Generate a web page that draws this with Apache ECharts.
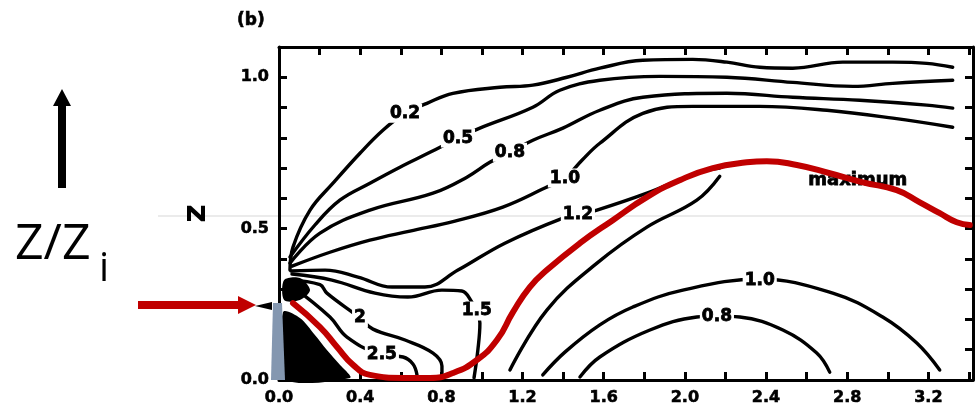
<!DOCTYPE html>
<html>
<head>
<meta charset="utf-8">
<script src="https://cdn.jsdelivr.net/npm/echarts@6/dist/echarts.min.js"></script>
<style>
html, body { margin: 0; padding: 0; background: #fff; }
#chart { width: 980px; height: 418px; }
</style>
</head>
<body>
<div id="chart"></div>
<script>
// contour lines, [x, z] pairs
const c02 = [[0.054,0.363],[0.069,0.439],[0.153,0.561],[0.266,0.650],[0.399,0.749],[0.512,0.825],[0.621,0.881],
    [0.729,0.914],[0.857,0.947],[1.089,0.967],[1.251,0.974],[1.419,1.0],[1.581,1.030],[1.793,1.056],[2.039,1.059],
    [2.207,1.050],[2.369,1.033],[2.532,1.030],[2.778,1.050],[3.025,1.050],[3.192,1.046],[3.320,1.033]];
const c05 = [[0.054,0.406],[0.177,0.512],[0.300,0.594],[0.448,0.650],[0.596,0.703],[0.744,0.752],[0.882,0.799],
    [0.990,0.832],[1.251,0.901],[1.384,0.957],[1.581,0.990],[1.877,1.003],[2.207,1.0],[2.532,0.983],[2.828,0.970],
    [3.025,0.980],[3.320,0.990]];
const c08 = [[0.054,0.386],[0.202,0.485],[0.448,0.561],[0.759,0.617],[0.926,0.670],[1.039,0.719],[1.138,0.752],
    [1.251,0.792],[1.399,0.832],[1.581,0.891],[1.793,0.934],[2.207,0.947],[2.532,0.934],[2.862,0.924],[3.192,0.908],
    [3.320,0.898]];
const c10 = [[0.064,0.376],[0.251,0.422],[0.448,0.462],[0.645,0.492],[0.867,0.525],[1.103,0.571],[1.310,0.634],
    [1.409,0.667],[1.493,0.726],[1.581,0.782],[1.793,0.881],[2.039,0.904],[2.369,0.904],[2.700,0.891],[3.025,0.865],
    [3.320,0.835]];
const c12 = [[0.059,0.360],[0.227,0.363],[0.389,0.340],[0.557,0.307],[0.719,0.307],[0.882,0.363],[1.113,0.452],
    [1.399,0.535],[1.473,0.545],[1.567,0.561],[1.813,0.617],[2.059,0.683],[2.172,0.700]];
const c15 = [[0.064,0.350],[0.261,0.330],[0.473,0.287],[0.635,0.274],[0.803,0.297],[0.901,0.294],[0.951,0.257],
    [0.975,0.228],[0.990,0.188],[0.980,0.099],[0.961,0.007]];
const c20 = [[0.054,0.330],[0.202,0.315],[0.236,0.287],[0.399,0.205],[0.463,0.168],[0.621,0.132],[0.759,0.089],
    [0.803,0.046],[0.803,0.007]];
const c25 = [[0.064,0.310],[0.251,0.208],[0.335,0.142],[0.507,0.083],[0.611,0.076],[0.660,0.053],[0.680,0.017]];
const cInner = [[1.138,0.033],[1.320,0.231],[1.567,0.386],[1.813,0.505],[2.059,0.594],[2.172,0.673]];
const c10low = [[1.300,0.017],[1.409,0.092],[1.581,0.182],[1.744,0.241],[1.990,0.297],[2.369,0.333],[2.729,0.287],
    [2.975,0.208],[3.143,0.122],[3.256,0.033]];
const c08low = [[1.483,0.010],[1.581,0.076],[1.828,0.165],[2.059,0.208],[2.158,0.211],[2.271,0.208],[2.483,0.165],
    [2.650,0.089],[2.714,0.026]];

// dark patches near the origin
const blob = [[0.020,0.224],[0.103,0.205],[0.177,0.149],[0.236,0.099],[0.300,0.050],[0.350,0.007],[0.020,0.007]];
const knot = [[0.025,0.330],[0.103,0.337],[0.153,0.297],[0.103,0.264],[0.025,0.264]];

const contourLabels = [[0.621,0.881,'0.2'],[0.882,0.799,'0.5'],[1.138,0.752,'0.8'],[1.409,0.667,'1.0'],
    [1.473,0.548,'1.2'],[0.975,0.228,'1.5'],[0.399,0.205,'2'],[0.507,0.083,'2.5'],
    [2.369,0.330,'1.0'],[2.158,0.211,'0.8']];
const maxLabel = [[2.852,0.658,'maximum']];

// red overlay curve
const redCurve = [[0.069,0.254],[0.202,0.175],[0.286,0.109],[0.365,0.050],[0.448,0.017],[0.611,0.007],[0.744,0.007],
    [0.857,0.023],[0.975,0.066],[1.074,0.132],[1.153,0.224],[1.236,0.307],[1.320,0.363],[1.483,0.452],[1.645,0.528],
    [1.813,0.604],[1.975,0.660],[2.138,0.700],[2.305,0.719],[2.404,0.723],[2.552,0.710],[2.714,0.683],[2.877,0.653],
    [3.044,0.627],[3.158,0.587],[3.256,0.551],[3.340,0.521],[3.404,0.512]];

const xLabels = [0, 0.4, 0.8, 1.2, 1.6, 2.0, 2.4, 2.8, 3.2];
const yLabels = [0, 0.5, 1.0];

const FONT = 'DejaVu Sans';
const chart = echarts.init(document.getElementById('chart'), null, { renderer: 'canvas' });

function axisCommon(labelList, show) {
    return {
        axisLine: { show: true, onZero: false, lineStyle: { color: '#000', width: 3 } },
        axisTick: { show: true, inside: true, length: 8, lineStyle: { color: '#000', width: 3 } },
        splitLine: { show: false },
        axisLabel: {
            show: show,
            color: '#000', fontFamily: FONT, fontWeight: 'bold', fontSize: 16, margin: 10,
            textBorderColor: '#000', textBorderWidth: 0.6,
            formatter: v => labelList.some(t => Math.abs(t - v) < 1e-6) ? v.toFixed(1) : ''
        }
    };
}

const contourSeries = [c02, c05, c08, c10, c12, c15, c20, c25, cInner, c10low, c08low].map(d => ({
    type: 'line', data: d, smooth: 0.4, symbol: 'none', silent: true, z: 2,
    lineStyle: { color: '#000', width: 3.4, cap: 'round', join: 'round' }
}));

const polySeries = [blob, knot].map(poly => ({
    type: 'custom', data: [[0, 0]], silent: true, z: 1, clip: false,
    renderItem: (params, api) => ({
        type: 'polygon',
        shape: { points: poly.map(p => api.coord(p)), smooth: 0.3 },
        style: { fill: '#000' }
    })
}));

function textSeries(data, font, bg, z) {
    return {
        type: 'custom', data: data, silent: true, z: z, clip: false,
        encode: { x: 0, y: 1 },
        renderItem: (params, api) => {
            const item = data[params.dataIndex];
            const pt = api.coord([item[0], item[1]]);
            return {
                type: 'text', x: pt[0], y: pt[1],
                style: {
                    text: item[2], font: font, fill: '#000',
                    stroke: '#000', lineWidth: 0.8,
                    align: 'center', verticalAlign: 'middle',
                    backgroundColor: bg, padding: [1, 2]
                }
            };
        }
    };
}

const option = {
    animation: false,
    grid: { left: 279, right: 7, top: 47, bottom: 38, containLabel: false },
    xAxis: [
        Object.assign({ type: 'value', position: 'bottom', min: 0, max: 3.42, interval: 0.2 }, axisCommon(xLabels, true)),
        Object.assign({ type: 'value', position: 'top', min: 0, max: 3.42, interval: 0.2 }, axisCommon(xLabels, false))
    ],
    yAxis: [
        Object.assign({
            type: 'value', position: 'left', min: 0, max: 1.1, interval: 0.1,
            name: 'z', nameLocation: 'middle', nameGap: 66, nameRotate: 90,
            nameTextStyle: { color: '#000', fontFamily: FONT, fontWeight: 'bold', fontSize: 32 }
        }, axisCommon(yLabels, true)),
        Object.assign({ type: 'value', position: 'right', min: 0, max: 1.1, interval: 0.1 }, axisCommon(yLabels, false))
    ],
    series: [
        ...polySeries,
        ...contourSeries,
        textSeries(contourLabels, 'bold 17px "DejaVu Sans"', '#fff', 3),
        textSeries(maxLabel, 'bold 18px "DejaVu Sans"', null, 3),
        {
            type: 'line', data: redCurve, smooth: 0.5, symbol: 'none', silent: true, z: 5,
            lineStyle: { color: '#c00000', width: 6, cap: 'round', join: 'round' }
        }
    ],
    graphic: [
        { type: 'line', z: 0, shape: { x1: 158, y1: 216, x2: 980, y2: 216 }, style: { stroke: '#ebebeb', lineWidth: 2 } },
        { type: 'text', x: 237, y: 12, style: { text: '(b)', fill: '#000', font: 'bold 17px "DejaVu Sans"', stroke: '#000', lineWidth: 0.6 } },
        // black up arrow
        { type: 'polygon', shape: { points: [[53, 106], [62, 89], [71, 106], [66, 106], [66, 188], [58, 188], [58, 106]] }, style: { fill: '#000' } },
        { type: 'text', x: 15, y: 245, style: { text: 'Z/Z', fill: '#000', font: '400 50px "Open Sans"', verticalAlign: 'middle' } },
        { type: 'text', x: 99, y: 270, style: { text: 'i', fill: '#000', font: '400 40px "Open Sans"', verticalAlign: 'middle' } },
        // red pointer arrow
        { type: 'polygon', shape: { points: [[138, 301], [238, 301], [238, 296], [256, 305], [238, 314], [238, 309], [138, 309]] }, style: { fill: '#c00000' } },
        { type: 'polygon', shape: { points: [[255, 306], [272, 302], [272, 310]] }, style: { fill: '#000' } },
        { type: 'polygon', z: 10, shape: { points: [[273, 303], [282, 303], [285, 380], [271, 380]] }, style: { fill: '#8497b0' } }
    ]
};

chart.setOption(option);
</script>
</body>
</html>
